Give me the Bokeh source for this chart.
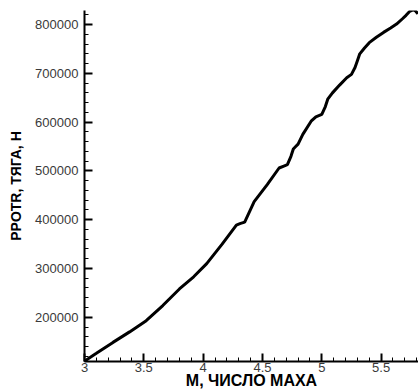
from bokeh.plotting import figure
from bokeh.models import SingleIntervalTicker, Range1d
from bokeh.embed import file_html
from bokeh.resources import INLINE

# Data
mach = [3.00, 3.10, 3.24, 3.38, 3.52, 3.66, 3.80, 3.92, 4.03, 4.16, 4.28, 4.31, 4.35,
        4.39, 4.43, 4.54, 4.64, 4.68, 4.71, 4.74, 4.76, 4.78, 4.80, 4.84, 4.91, 4.95,
        5.00, 5.03, 5.05, 5.09, 5.15, 5.21, 5.25, 5.28, 5.30, 5.32, 5.36, 5.40, 5.46,
        5.52, 5.58, 5.63, 5.68, 5.71, 5.74, 5.77, 5.79, 5.81]
thrust = [110000, 126000, 148500, 170000, 193000, 224000, 258000, 283000, 310000,
          350000, 389000, 392000, 395000, 416000, 437000, 472000, 506000, 510000,
          513000, 530000, 545000, 550000, 555000, 575000, 602000, 611000, 616000,
          632000, 647000, 660000, 676000, 691000, 698000, 712000, 726000, 740000,
          752000, 763000, 774000, 784000, 793000, 801000, 812000, 819000, 827000,
          830000, 828000, 822000]

x_ticks = [3, 3.5, 4, 4.5, 5, 5.5]
x_tick_labels = ["3", "3.5", "4", "4.5", "5", "5.5"]
y_ticks = [200000, 300000, 400000, 500000, 600000, 700000, 800000]
y_tick_labels = ["200000", "300000", "400000", "500000", "600000", "700000", "800000"]

x_title = "М, ЧИСЛО МАХА"
y_title = "PPOTR, ТЯГА, Н"

p = figure(width=418, height=391, output_backend="svg", toolbar_location=None,
           x_range=Range1d(3, 5.815), y_range=Range1d(109300, 828900),
           min_border_left=84, min_border_right=0, min_border_top=10, min_border_bottom=0)

p.line(mach, thrust, line_color="black", line_width=3)

p.xgrid.visible = False
p.ygrid.visible = False
p.outline_line_color = None
p.background_fill_color = "white"
p.border_fill_color = "white"

font = "Liberation Sans"

xa = p.xaxis[0]
xa.ticker = SingleIntervalTicker(interval=0.5, num_minor_ticks=5)
xa.major_label_overrides = {t: l for t, l in zip(x_ticks, x_tick_labels)}
xa.axis_label = x_title

ya = p.yaxis[0]
ya.ticker = SingleIntervalTicker(interval=100000, num_minor_ticks=5)
ya.major_label_overrides = {t: l for t, l in zip(y_ticks, y_tick_labels)}
ya.axis_label = y_title

for ax in (xa, ya):
    ax.axis_line_color = "black"
    ax.axis_line_width = 2
    ax.major_tick_line_color = "black"
    ax.major_tick_line_width = 2
    ax.minor_tick_line_color = "black"
    ax.minor_tick_line_width = 1
    ax.major_tick_in = 8
    ax.major_tick_out = 0
    ax.minor_tick_in = 4
    ax.minor_tick_out = 0
    ax.major_label_text_font = font
    ax.major_label_text_font_size = "13px"
    ax.major_label_text_color = "#3a3a3a"
    ax.axis_label_text_font = font
    ax.axis_label_text_font_style = "bold"
    ax.axis_label_text_color = "black"

xa.major_label_standoff = 1
xa.axis_label_standoff = -3
xa.axis_label_text_font_size = "16px"
ya.major_label_standoff = 6
ya.axis_label_standoff = 8
ya.axis_label_text_font_size = "14px"

open("out.html", "w").write(file_html(p, INLINE))
